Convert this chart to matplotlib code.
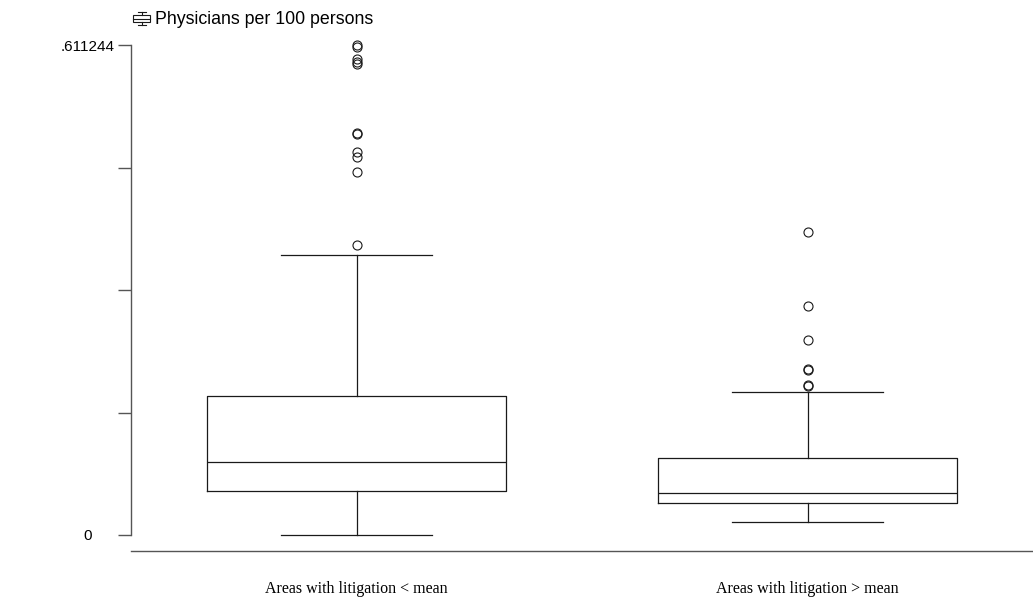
import matplotlib
matplotlib.use("Agg")
import matplotlib.pyplot as plt
from matplotlib.lines import Line2D
from matplotlib.patches import Rectangle

# box statistics
groups = ["Areas with litigation < mean", "Areas with litigation > mean"]
whislo = [0.0, 0.0158]
q1 = [0.0543, 0.0399]
med = [0.0911, 0.0528]
q3 = [0.1738, 0.0964]
whishi = [0.3493, 0.1784]
outliers_low = [0.3617, 0.4528, 0.4715, 0.4778, 0.5005, 0.5015,
                0.5875, 0.5900, 0.5938, 0.6085, 0.611244]
outliers_high = [0.1859, 0.1871, 0.2058, 0.2071, 0.2432, 0.2857, 0.3780]
ymax = 0.611244
ytick_labels = ["0", "", "", "", ".611244"]

stats = []
for i, name in enumerate(groups):
    stats.append({
        "label": name,
        "whislo": whislo[i], "q1": q1[i], "med": med[i],
        "q3": q3[i], "whishi": whishi[i],
        "fliers": [outliers_low, outliers_high][i],
    })

fig = plt.figure(figsize=(10.33, 6.02), dpi=100)
W, H = 1033, 602
ax = fig.add_axes([131 / W, 1 - 551 / H, 1 - 131 / W, (551 - 45) / H])

lc = "#1a1a1a"
line = dict(color=lc, linewidth=0.9)
ax.bxp(
    stats, positions=[1, 2], widths=0.665, showfliers=True,
    boxprops=line, whiskerprops=line, capprops=line,
    medianprops=line, capwidths=0.333,
    flierprops=dict(marker="o", markersize=6.5, markerfacecolor="none",
                    markeredgecolor=lc, markeredgewidth=0.8),
)
for art in ax.lines:
    art.set_clip_on(False)

ax.set_xlim(0.5, 2.5)
ax.set_ylim(-ymax * 16 / 490, ymax)

for s in ["top", "right"]:
    ax.spines[s].set_visible(False)
for s in ["left", "bottom"]:
    ax.spines[s].set_color("#555555")
    ax.spines[s].set_linewidth(1.0)
ax.spines["left"].set_bounds(0, ymax)

ax.set_yticks([ymax * k / 4 for k in range(5)])
ax.set_yticklabels(ytick_labels, fontfamily="Liberation Sans", fontsize=11)
ax.tick_params(axis="y", length=9.4, width=1.0, color="#555555", pad=21.6)
for t in ax.get_yticklabels():
    t.set_ha("center")

ax.set_xticks([1, 2])
ax.set_xticklabels(groups, fontfamily="Liberation Serif", fontsize=11.5)
ax.tick_params(axis="x", length=0, pad=21.5)

# legend-style key at the top
fig.text(155 / W, 1 - 19 / H, "Physicians per 100 persons",
         fontfamily="Liberation Sans", fontsize=12.8, va="center", ha="left")
px = lambda x, y: (x / W, 1 - y / H)
kx0, kx1 = 133, 150
fig.add_artist(Rectangle(px(kx0, 22), (kx1 - kx0) / W, 7 / H, transform=fig.transFigure,
                         fill=False, edgecolor=lc, linewidth=0.8))
mx = (kx0 + kx1) / 2
for seg in [((kx0, kx1), (18.5, 18.5)), ((mx, mx), (12, 15)), ((mx, mx), (22, 25)),
            ((mx - 4, mx + 4), (12, 12)), ((mx - 4, mx + 4), (25, 25))]:
    xs, ys = seg
    fig.add_artist(Line2D([x / W for x in xs], [1 - y / H for y in ys],
                          transform=fig.transFigure, color=lc, linewidth=0.8))

fig.savefig("out.png", dpi=100)
